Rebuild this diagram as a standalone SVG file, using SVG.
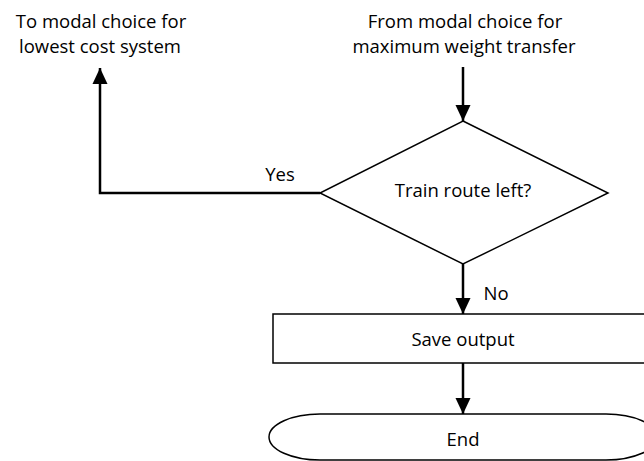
<svg xmlns="http://www.w3.org/2000/svg" width="644" height="461" viewBox="0 0 644 461">
<style>
.t{font-family:"Open Sans","Liberation Sans",sans-serif;font-size:18.5px;fill:#000;text-anchor:middle}
.s{fill:#fff;stroke:#000;stroke-width:1.5}
.c{fill:none;stroke:#000;stroke-width:2.5}
</style>
<defs>
<marker id="ah" markerUnits="userSpaceOnUse" markerWidth="16" markerHeight="18" refX="17" refY="8" orient="auto" viewBox="0 0 17 16">
<path d="M0,0 L17,8 L0,16 Z" fill="#000"/>
</marker>
</defs>
<rect width="644" height="461" fill="#fff"/>
<g id="label-to">
<text class="t" x="101" y="28">To modal choice for</text>
<text class="t" x="100" y="53">lowest cost system</text>
</g>
<g id="label-from">
<text class="t" x="465" y="28">From modal choice for</text>
<text class="t" x="464" y="53">maximum weight transfer</text>
</g>
<g id="decision">
<polygon class="s" points="463,121 608,193 463,264 320,193"/>
<text class="t" x="463" y="197">Train route left?</text>
</g>
<g id="save">
<rect class="s" x="273" y="314" width="382" height="49"/>
<text class="t" x="463" y="346">Save output</text>
</g>
<g id="end">
<path class="s" d="M320,414 L606,414 A51,23 0 0 1 606,460 L320,460 A51,23 0 0 1 320,414 Z"/>
<text class="t" x="463" y="446">End</text>
</g>
<g id="connectors">
<line class="c" x1="463" y1="67" x2="463" y2="121" marker-end="url(#ah)"/>
<polyline class="c" points="320,193 100,193 100,68" marker-end="url(#ah)"/>
<line class="c" x1="463" y1="264" x2="463" y2="314" marker-end="url(#ah)"/>
<line class="c" x1="463" y1="363" x2="463" y2="414" marker-end="url(#ah)"/>
<text class="t" x="280" y="181">Yes</text>
<text class="t" x="496" y="300">No</text>
</g>
</svg>
